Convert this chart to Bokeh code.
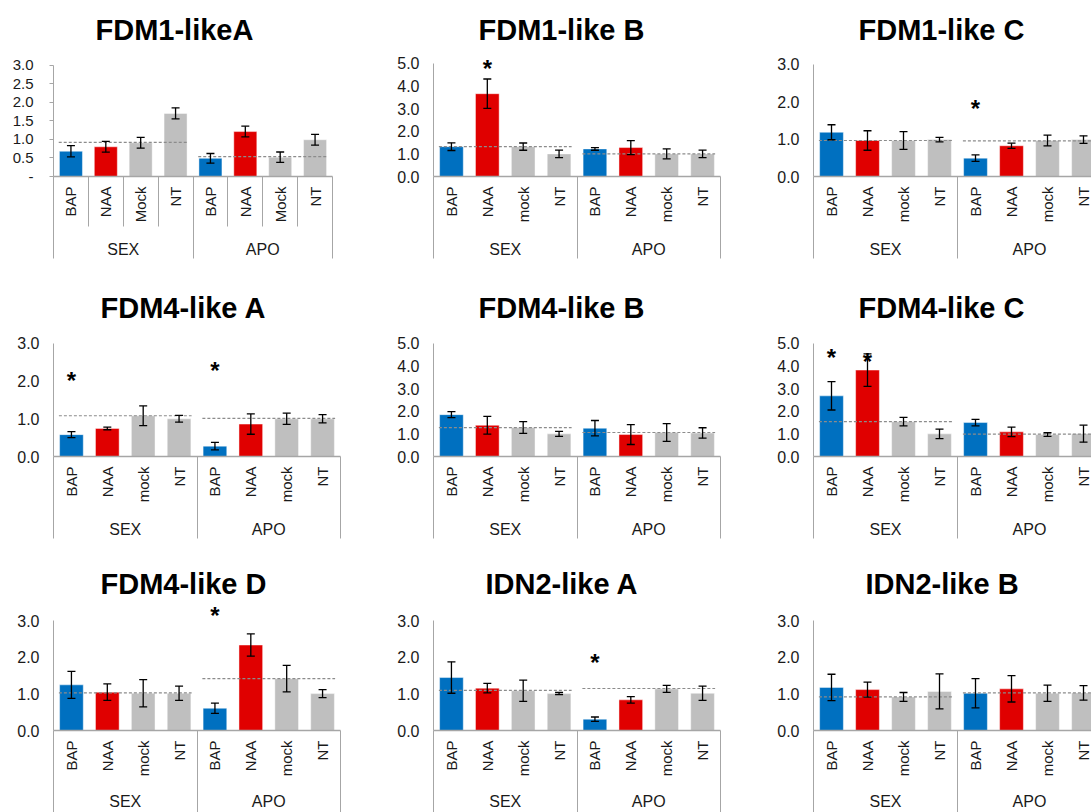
import math
from bokeh.plotting import figure
from bokeh.models import (Range1d, LinearAxis, FixedTicker, Whisker, TeeHead,
                          ColumnDataSource, PrintfTickFormatter)
from bokeh.layouts import row, column
from bokeh.embed import file_html
from bokeh.resources import INLINE
from bokeh.core.properties import value

# ---------------- data ----------------
panel_titles = ["FDM1-likeA", "FDM1-like B", "FDM1-like C",
                "FDM4-like A", "FDM4-like B", "FDM4-like C",
                "FDM4-like D", "IDN2-like A", "IDN2-like B"]
groups = ["SEX", "APO"]
treatments_first = ["BAP", "NAA", "Mock", "NT"]
treatments = ["BAP", "NAA", "mock", "NT"]

# order: SEX BAP, NAA, mock, NT, APO BAP, NAA, mock, NT
fdm1_a = [0.68, 0.80, 0.91, 1.70, 0.49, 1.21, 0.52, 0.99]
fdm1_a_err = [0.15, 0.145, 0.145, 0.15, 0.13, 0.145, 0.14, 0.145]
fdm1_a_ref = [0.92, 0.535]

fdm1_b = [1.32, 3.66, 1.32, 1.00, 1.22, 1.28, 1.00, 1.00]
fdm1_b_err = [0.17, 0.65, 0.16, 0.17, 0.06, 0.31, 0.22, 0.17]
fdm1_b_ref = [1.32, 1.00]

fdm1_c = [1.18, 0.96, 0.96, 0.985, 0.49, 0.82, 0.96, 0.985]
fdm1_c_err = [0.20, 0.26, 0.235, 0.06, 0.085, 0.07, 0.145, 0.10]
fdm1_c_ref = [0.96, 0.95]

fdm4_a = [0.58, 0.745, 1.08, 1.00, 0.275, 0.86, 1.00, 1.00]
fdm4_a_err = [0.08, 0.035, 0.26, 0.09, 0.10, 0.27, 0.15, 0.11]
fdm4_a_ref = [1.08, 1.01]

fdm4_b = [1.85, 1.38, 1.28, 1.00, 1.25, 0.97, 1.06, 1.04]
fdm4_b_err = [0.135, 0.39, 0.26, 0.11, 0.34, 0.44, 0.39, 0.23]
fdm4_b_ref = [1.28, 1.06]

fdm4_c = [2.68, 3.82, 1.54, 1.00, 1.50, 1.09, 0.97, 1.01]
fdm4_c_err = [0.625, 0.72, 0.19, 0.21, 0.145, 0.21, 0.08, 0.375]
fdm4_c_ref = [1.54, 0.985]

fdm4_d = [1.25, 1.05, 1.02, 1.02, 0.61, 2.34, 1.42, 1.01]
fdm4_d_err = [0.37, 0.225, 0.375, 0.195, 0.14, 0.305, 0.365, 0.11]
fdm4_d_ref = [1.03, 1.42]

idn2_a = [1.45, 1.16, 1.09, 1.01, 0.31, 0.84, 1.14, 1.02]
idn2_a_err = [0.43, 0.13, 0.29, 0.03, 0.06, 0.09, 0.095, 0.195]
idn2_a_ref = [1.10, 1.15]

idn2_b = [1.18, 1.12, 0.92, 1.07, 1.02, 1.14, 1.02, 1.03]
idn2_b_err = [0.36, 0.205, 0.12, 0.48, 0.40, 0.36, 0.225, 0.20]
idn2_b_ref = [0.92, 1.03]

panel_values = [fdm1_a, fdm1_b, fdm1_c, fdm4_a, fdm4_b, fdm4_c, fdm4_d, idn2_a, idn2_b]
panel_errors = [fdm1_a_err, fdm1_b_err, fdm1_c_err, fdm4_a_err, fdm4_b_err,
                fdm4_c_err, fdm4_d_err, idn2_a_err, idn2_b_err]
panel_refs = [fdm1_a_ref, fdm1_b_ref, fdm1_c_ref, fdm4_a_ref, fdm4_b_ref,
              fdm4_c_ref, fdm4_d_ref, idn2_a_ref, idn2_b_ref]

y_max = [3.0, 5.0, 3.0, 3.0, 5.0, 5.0, 3.0, 3.0, 3.0]
y_step = [0.5, 1.0, 1.0, 1.0, 1.0, 1.0, 1.0, 1.0, 1.0]

# significance marks: (panel, group, treatment index, height)
star_panel = [1, 2, 3, 3, 5, 5, 6, 7]
star_group = [0, 1, 0, 1, 0, 0, 1, 1]
star_treat = [1, 0, 0, 0, 0, 1, 0, 0]
star_height = [4.97, 1.92, 2.11, 2.38, 4.56, 4.38, 3.27, 1.96]

# ---------------- layout (pixels) ----------------
FONT = "Liberation Sans"
AXIS_GRAY = "#A6A6A6"
TXT = "#1A1A1A"
DASH_GRAY = "#8C8C8C"
colors = {"BAP": "#0070C0", "NAA": "#E00000", "Mock": "#BFBFBF",
          "mock": "#BFBFBF", "NT": "#BFBFBF"}

col_w = [360, 370, 361]
col_left = [53, 73, 83]
right_border = [28, 10, 0, 20, 10, 0, 20, 10, 0]
col_unit_px = 36.0
row_start = [0, 270, 540]
row_h = [270, 270, 272]
frame_top = [48, 326, 602]
zero_px = [179, 177, 176, 457, 457, 457, 734, 734, 734]
top_px = [65, 63, 63.5, 343, 343, 343, 621, 621, 621]
title_left = [42, 45, 45, 47, 45, 45, 47, 52, 52]
group_gap = [15, 15, 13]
INNER_SEP = 50
FULL_SEP = 79


def make_panel(i):
    r, c = divmod(i, 3)
    vals = panel_values[i]
    errs = panel_errors[i]
    refs = panel_refs[i]
    tlist = treatments_first if i == 0 else treatments
    n = len(tlist)
    ncat = n * len(groups)

    frame_w = col_w[c] - col_left[c] - right_border[i]
    x_end = ncat if c < 2 else frame_w / col_unit_px
    y_end = y_max[i] * (zero_px[i] - frame_top[r]) / (zero_px[i] - top_px[i])

    p = figure(width=col_w[c], height=row_h[r],
               x_range=Range1d(0, x_end), y_range=Range1d(0, y_end),
               x_axis_type=None, output_backend="svg", toolbar_location=None,
               title=panel_titles[i])
    p.min_border_left = col_left[c]
    p.min_border_right = right_border[i]
    p.min_border_top = frame_top[r] - row_start[r]
    p.min_border_bottom = row_start[r] + row_h[r] - zero_px[i]
    p.outline_line_color = None
    p.grid.visible = False
    p.background_fill_color = "white"
    p.border_fill_color = "white"

    t = p.title
    t.text_font = FONT
    t.text_font_size = "29px"
    t.text_font_style = "bold"
    t.text_color = "black"
    t.align = "left"
    t.offset = title_left[i]
    t.standoff = 6

    xs = [g * n + k + 0.5 for g in range(len(groups)) for k in range(n)]
    labels = [tlist[k] for g in range(len(groups)) for k in range(n)]
    src = ColumnDataSource(dict(
        x=xs, top=vals, color=[colors[l] for l in labels],
        upper=[v + e for v, e in zip(vals, errs)],
        lower=[v - e for v, e in zip(vals, errs)]))

    p.vbar(x="x", top="top", bottom=0, width=0.66, source=src,
           fill_color="color", line_color="white", line_alpha=0.45, line_width=1)

    # group reference (dashed)
    p.segment(x0=[g * n + 0.15 for g in range(len(groups))],
              x1=[g * n + n - 0.15 for g in range(len(groups))],
              y0=refs, y1=refs, line_color=DASH_GRAY, line_width=1.2,
              line_dash="3 2")

    head_kw = dict(size=8, line_color="black", line_width=1.3)
    wh = Whisker(source=src, base="x", upper="upper", lower="lower",
                 line_color="black", line_width=1.3, level="overlay",
                 upper_head=TeeHead(**head_kw), lower_head=TeeHead(**head_kw))
    p.add_layout(wh)

    sx = [star_group[k] * n + star_treat[k] + 0.5
          for k in range(len(star_panel)) if star_panel[k] == i]
    sy = [star_height[k] for k in range(len(star_panel)) if star_panel[k] == i]
    if sx:
        p.text(x=sx, y=sy, text=["*"] * len(sx), text_font=value(FONT),
               text_font_size="24px", text_font_style="bold",
               text_align="center", text_baseline="middle", y_offset=4,
               text_color="black")

    # y axis
    ya = p.yaxis[0]
    nt = int(round(y_max[i] / y_step[i]))
    ya.ticker = FixedTicker(ticks=[k * y_step[i] for k in range(nt + 1)])
    ya.formatter = PrintfTickFormatter(format="%.1f")
    ya.bounds = (0, y_max[i])
    ya.axis_line_color = AXIS_GRAY
    ya.axis_line_width = 1
    ya.major_tick_in = 0
    ya.minor_tick_in = 0
    ya.minor_tick_out = 0
    ya.major_tick_line_color = AXIS_GRAY
    if i == 0:
        ya.major_tick_out = 4
        ya.major_label_standoff = 16
        ya.major_label_overrides = {0: "-"}
        ya.major_label_text_font_size = "15px"
    else:
        ya.major_tick_out = 0
        ya.major_label_standoff = 14
        ya.major_label_text_font_size = "16px"
    ya.major_label_text_font = FONT
    ya.major_label_text_color = TXT

    bounds = [g * n for g in range(len(groups) + 1)]
    inner = [g * n + k for g in range(len(groups)) for k in range(1, n)] if i == 0 else []

    # category labels + upper part of the separators
    ax = LinearAxis(ticker=FixedTicker(ticks=xs, minor_ticks=sorted(bounds + inner)),
                    major_label_overrides={x: l for x, l in zip(xs, labels)},
                    major_label_orientation=math.pi / 2,
                    major_tick_out=0, major_tick_in=0,
                    minor_tick_in=0, minor_tick_out=INNER_SEP,
                    minor_tick_line_color=AXIS_GRAY, minor_tick_line_width=1,
                    axis_line_color=AXIS_GRAY, axis_line_width=1.3,
                    major_label_standoff=10 - INNER_SEP,
                    major_label_text_font=FONT,
                    major_label_text_font_size="15px",
                    major_label_text_color=TXT)
    p.add_layout(ax, "below")

    # group labels + lower part of the group separators
    gx = [g * n + n / 2 for g in range(len(groups))]
    lower_len = FULL_SEP - 46
    gax = LinearAxis(ticker=FixedTicker(ticks=gx, minor_ticks=bounds),
                     major_label_overrides={x: l for x, l in zip(gx, groups)},
                     major_label_orientation="horizontal",
                     major_tick_out=0, major_tick_in=0,
                     minor_tick_in=10, minor_tick_out=lower_len,
                     minor_tick_line_color=AXIS_GRAY, minor_tick_line_width=1,
                     axis_line_color=None,
                     major_label_standoff=group_gap[r] - lower_len,
                     major_label_text_font=FONT,
                     major_label_text_font_size="16px",
                     major_label_text_color=TXT)
    p.add_layout(gax, "below")
    return p


panels = [make_panel(i) for i in range(9)]
layout = column(row(*panels[0:3]), row(*panels[3:6]), row(*panels[6:9]))
open("out.html", "w").write(file_html(layout, INLINE))
